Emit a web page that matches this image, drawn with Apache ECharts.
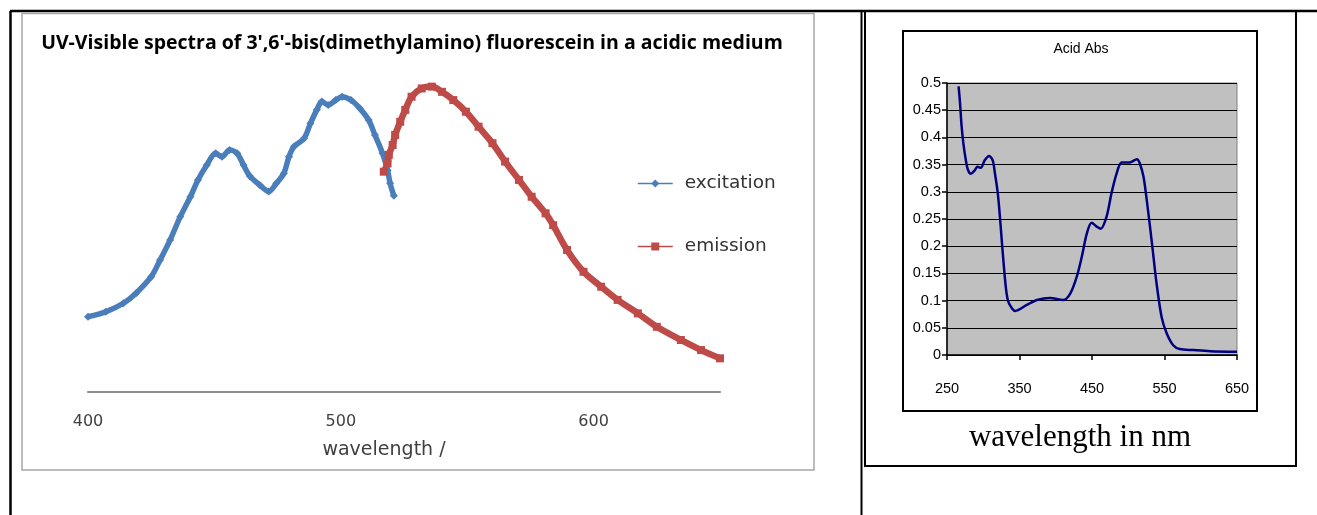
<!DOCTYPE html>
<html>
<head>
<meta charset="utf-8">
<script src="https://cdn.jsdelivr.net/npm/echarts@6/dist/echarts.min.js"></script>
<style>
  html, body { margin: 0; padding: 0; background: #fff; }
  #chart { width: 1317px; height: 515px; }
</style>
</head>
<body>
<div id="chart"></div>
<script>
// Left panel: fluorescence spectra, wavelength (nm) vs intensity (arbitrary units)
const excitationWavelength = [400, 407, 414, 419, 425, 428.5, 432.5, 436.5, 440.5, 443.5, 447, 450.5, 453, 456, 459, 461.5, 464, 468, 471.5, 474.5, 477.5, 479.5, 481.5, 485.5, 488, 490.5, 492.5, 495, 498, 500.5, 504, 507.5, 511, 513.5, 516.5, 518.5, 519.5, 521];
const excitationIntensity = [24.6, 26.2, 29.0, 32.3, 37.7, 43.1, 49.7, 57.3, 63.8, 69.3, 74.2, 78.0, 76.9, 79.1, 78.0, 74.2, 70.6, 67.6, 65.5, 68.2, 71.5, 76.9, 80.2, 82.9, 87.8, 92.2, 94.9, 93.8, 95.4, 96.5, 95.4, 92.7, 88.9, 84.0, 78.0, 72.5, 68.2, 64.1];
const emissionWavelength = [517, 518.5, 519, 520.5, 521.5, 523.5, 525.5, 528, 532, 536, 540, 544.5, 549.5, 554.5, 560, 565, 570.5, 575.5, 581, 584, 589.5, 596, 603, 609.5, 617.5, 625, 634.5, 642.5, 650];
const emissionIntensity = [72.0, 74.7, 77.5, 80.7, 84.0, 88.3, 92.2, 96.5, 99.2, 99.8, 98.1, 95.4, 91.6, 86.7, 81.3, 75.3, 69.3, 63.8, 58.4, 54.5, 46.4, 39.3, 34.4, 30.1, 25.7, 21.3, 17.0, 13.7, 11.0];

// Right panel: absorbance spectrum in acid
const absWavelength = [266, 268, 270, 272.5, 276, 279, 283, 288.5, 292, 296.5, 302, 308, 313, 316, 320, 323, 325.5, 328, 331.5, 334.5, 340, 344, 360, 374, 392, 410, 420, 429, 436, 443, 449.5, 456.5, 462, 470, 477, 484, 491, 502, 512, 516, 521, 525.5, 530, 534, 539, 546, 553, 562, 571, 590, 613, 650];
const absValue = [0.494, 0.463, 0.423, 0.390, 0.358, 0.340, 0.333, 0.340, 0.346, 0.344, 0.358, 0.366, 0.358, 0.335, 0.298, 0.254, 0.211, 0.170, 0.120, 0.098, 0.085, 0.081, 0.092, 0.101, 0.105, 0.101, 0.113, 0.144, 0.181, 0.224, 0.243, 0.236, 0.232, 0.254, 0.298, 0.334, 0.354, 0.354, 0.360, 0.352, 0.328, 0.285, 0.236, 0.190, 0.132, 0.070, 0.040, 0.018, 0.011, 0.009, 0.007, 0.006];

const seriesNames = ['excitation', 'emission'];
const mainTitle = "UV-Visible spectra of 3',6'-bis(dimethylamino) fluorescein in a acidic medium";
const leftAxisName = 'wavelength /';
const rightTitle = 'Acid Abs';
const rightAxisName = 'wavelength in nm';

const zip = (xs, ys) => xs.map((x, i) => [x, ys[i]]);

const narrow = "'Liberation Sans Narrow', 'Arial Narrow', 'Liberation Sans', sans-serif";
const sans = "'DejaVu Sans', sans-serif";

const chart = echarts.init(document.getElementById('chart'), null, { renderer: 'canvas' });

chart.setOption({
  animation: false,
  backgroundColor: '#ffffff',
  legend: {
    data: seriesNames,
    orient: 'vertical',
    left: 637,
    top: 174,
    itemWidth: 35,
    itemHeight: 10,
    itemGap: 44,
    padding: 0,
    lineStyle: { width: 1.5 },
    textStyle: { fontFamily: sans, fontSize: 18.5, color: '#333333', padding: [0, 0, 0, 7] }
  },
  grid: [
    { left: 88, right: 597, top: 55.4, bottom: 123, containLabel: false },
    { left: 947, right: 80, top: 83, bottom: 160, containLabel: false,
      show: true, backgroundColor: '#C0C0C0', borderColor: '#808080', borderWidth: 1 }
  ],
  xAxis: [
    {
      gridIndex: 0, type: 'value', min: 400, max: 650, interval: 100,
      axisLine: { show: true, lineStyle: { color: '#8C8C8C', width: 2 } },
      axisTick: { show: false },
      splitLine: { show: false },
      axisLabel: { showMaxLabel: false, fontFamily: sans, fontSize: 16, color: '#404040', margin: 22 }
    },
    {
      gridIndex: 1, type: 'value', min: 250, max: 650, interval: 100,
      axisLine: { show: true, onZero: false, lineStyle: { color: '#000', width: 1.5 } },
      axisTick: { show: true, length: 5, lineStyle: { color: '#000', width: 1.5 } },
      splitLine: { show: false },
      axisLabel: { fontFamily: narrow, fontSize: 14.5, color: '#000', margin: 26 }
    }
  ],
  yAxis: [
    { gridIndex: 0, type: 'value', min: 0, max: 110, show: false },
    {
      gridIndex: 1, type: 'value', min: 0, max: 0.5, interval: 0.05,
      axisLine: { show: true, lineStyle: { color: '#000', width: 1.5 } },
      axisTick: { show: true, length: 5, lineStyle: { color: '#000', width: 1.5 } },
      splitLine: { show: true, lineStyle: { color: '#000', width: 1 } },
      axisLabel: { fontFamily: narrow, fontSize: 14.5, color: '#000', margin: 6 }
    }
  ],
  series: [
    {
      name: seriesNames[0], type: 'line', xAxisIndex: 0, yAxisIndex: 0,
      data: zip(excitationWavelength, excitationIntensity),
      smooth: 0.3, symbol: 'diamond', symbolSize: 8, showAllSymbol: true,
      color: '#4A7EBB',
      lineStyle: { color: '#4A7EBB', width: 5.5 },
      itemStyle: { color: '#4A7EBB' }
    },
    {
      name: seriesNames[1], type: 'line', xAxisIndex: 0, yAxisIndex: 0,
      data: zip(emissionWavelength, emissionIntensity),
      smooth: 0.3, symbol: 'rect', symbolSize: 8, showAllSymbol: true,
      color: '#BE4B48',
      lineStyle: { color: '#BE4B48', width: 6.5 },
      itemStyle: { color: '#BE4B48' }
    },
    {
      name: rightTitle, type: 'line', xAxisIndex: 1, yAxisIndex: 1,
      data: zip(absWavelength, absValue),
      smooth: 0.3, showSymbol: false,
      lineStyle: { color: '#000080', width: 2.5 }
    }
  ],
  graphic: [
    // table rules around the two panels
    { type: 'line', shape: { x1: 10, y1: 11, x2: 1317, y2: 11 }, style: { stroke: '#000', lineWidth: 2.5 } },
    { type: 'line', shape: { x1: 10.5, y1: 11, x2: 10.5, y2: 515 }, style: { stroke: '#000', lineWidth: 2.5 } },
    { type: 'line', shape: { x1: 861.5, y1: 11, x2: 861.5, y2: 515 }, style: { stroke: '#000', lineWidth: 2 } },
    { type: 'rect', shape: { x: 865, y: 11, width: 431, height: 455 }, style: { fill: 'none', stroke: '#000', lineWidth: 2 } },
    // chart frames
    { type: 'rect', shape: { x: 22, y: 13.5, width: 792, height: 456.5 }, style: { fill: 'none', stroke: '#A6A6A6', lineWidth: 1.5 } },
    { type: 'rect', shape: { x: 903, y: 31, width: 354, height: 380 }, style: { fill: 'none', stroke: '#000', lineWidth: 2 } },
    // texts
    { type: 'text', x: 412, y: 43, style: { text: mainTitle, align: 'center', verticalAlign: 'middle', font: "bold 19.5px 'Open Sans', sans-serif", fill: '#000' } },
    { type: 'text', x: 384, y: 450, style: { text: leftAxisName, align: 'center', verticalAlign: 'middle', font: "19px 'DejaVu Sans', sans-serif", fill: '#404040' } },
    { type: 'text', x: 1081, y: 49, style: { text: rightTitle, align: 'center', verticalAlign: 'middle', font: "14px " + narrow, fill: '#000' } },
    { type: 'text', x: 1080, y: 438, style: { text: rightAxisName, align: 'center', verticalAlign: 'middle', font: "31px 'Liberation Serif', 'Times New Roman', serif", fill: '#000' } }
  ]
});
</script>
</body>
</html>
